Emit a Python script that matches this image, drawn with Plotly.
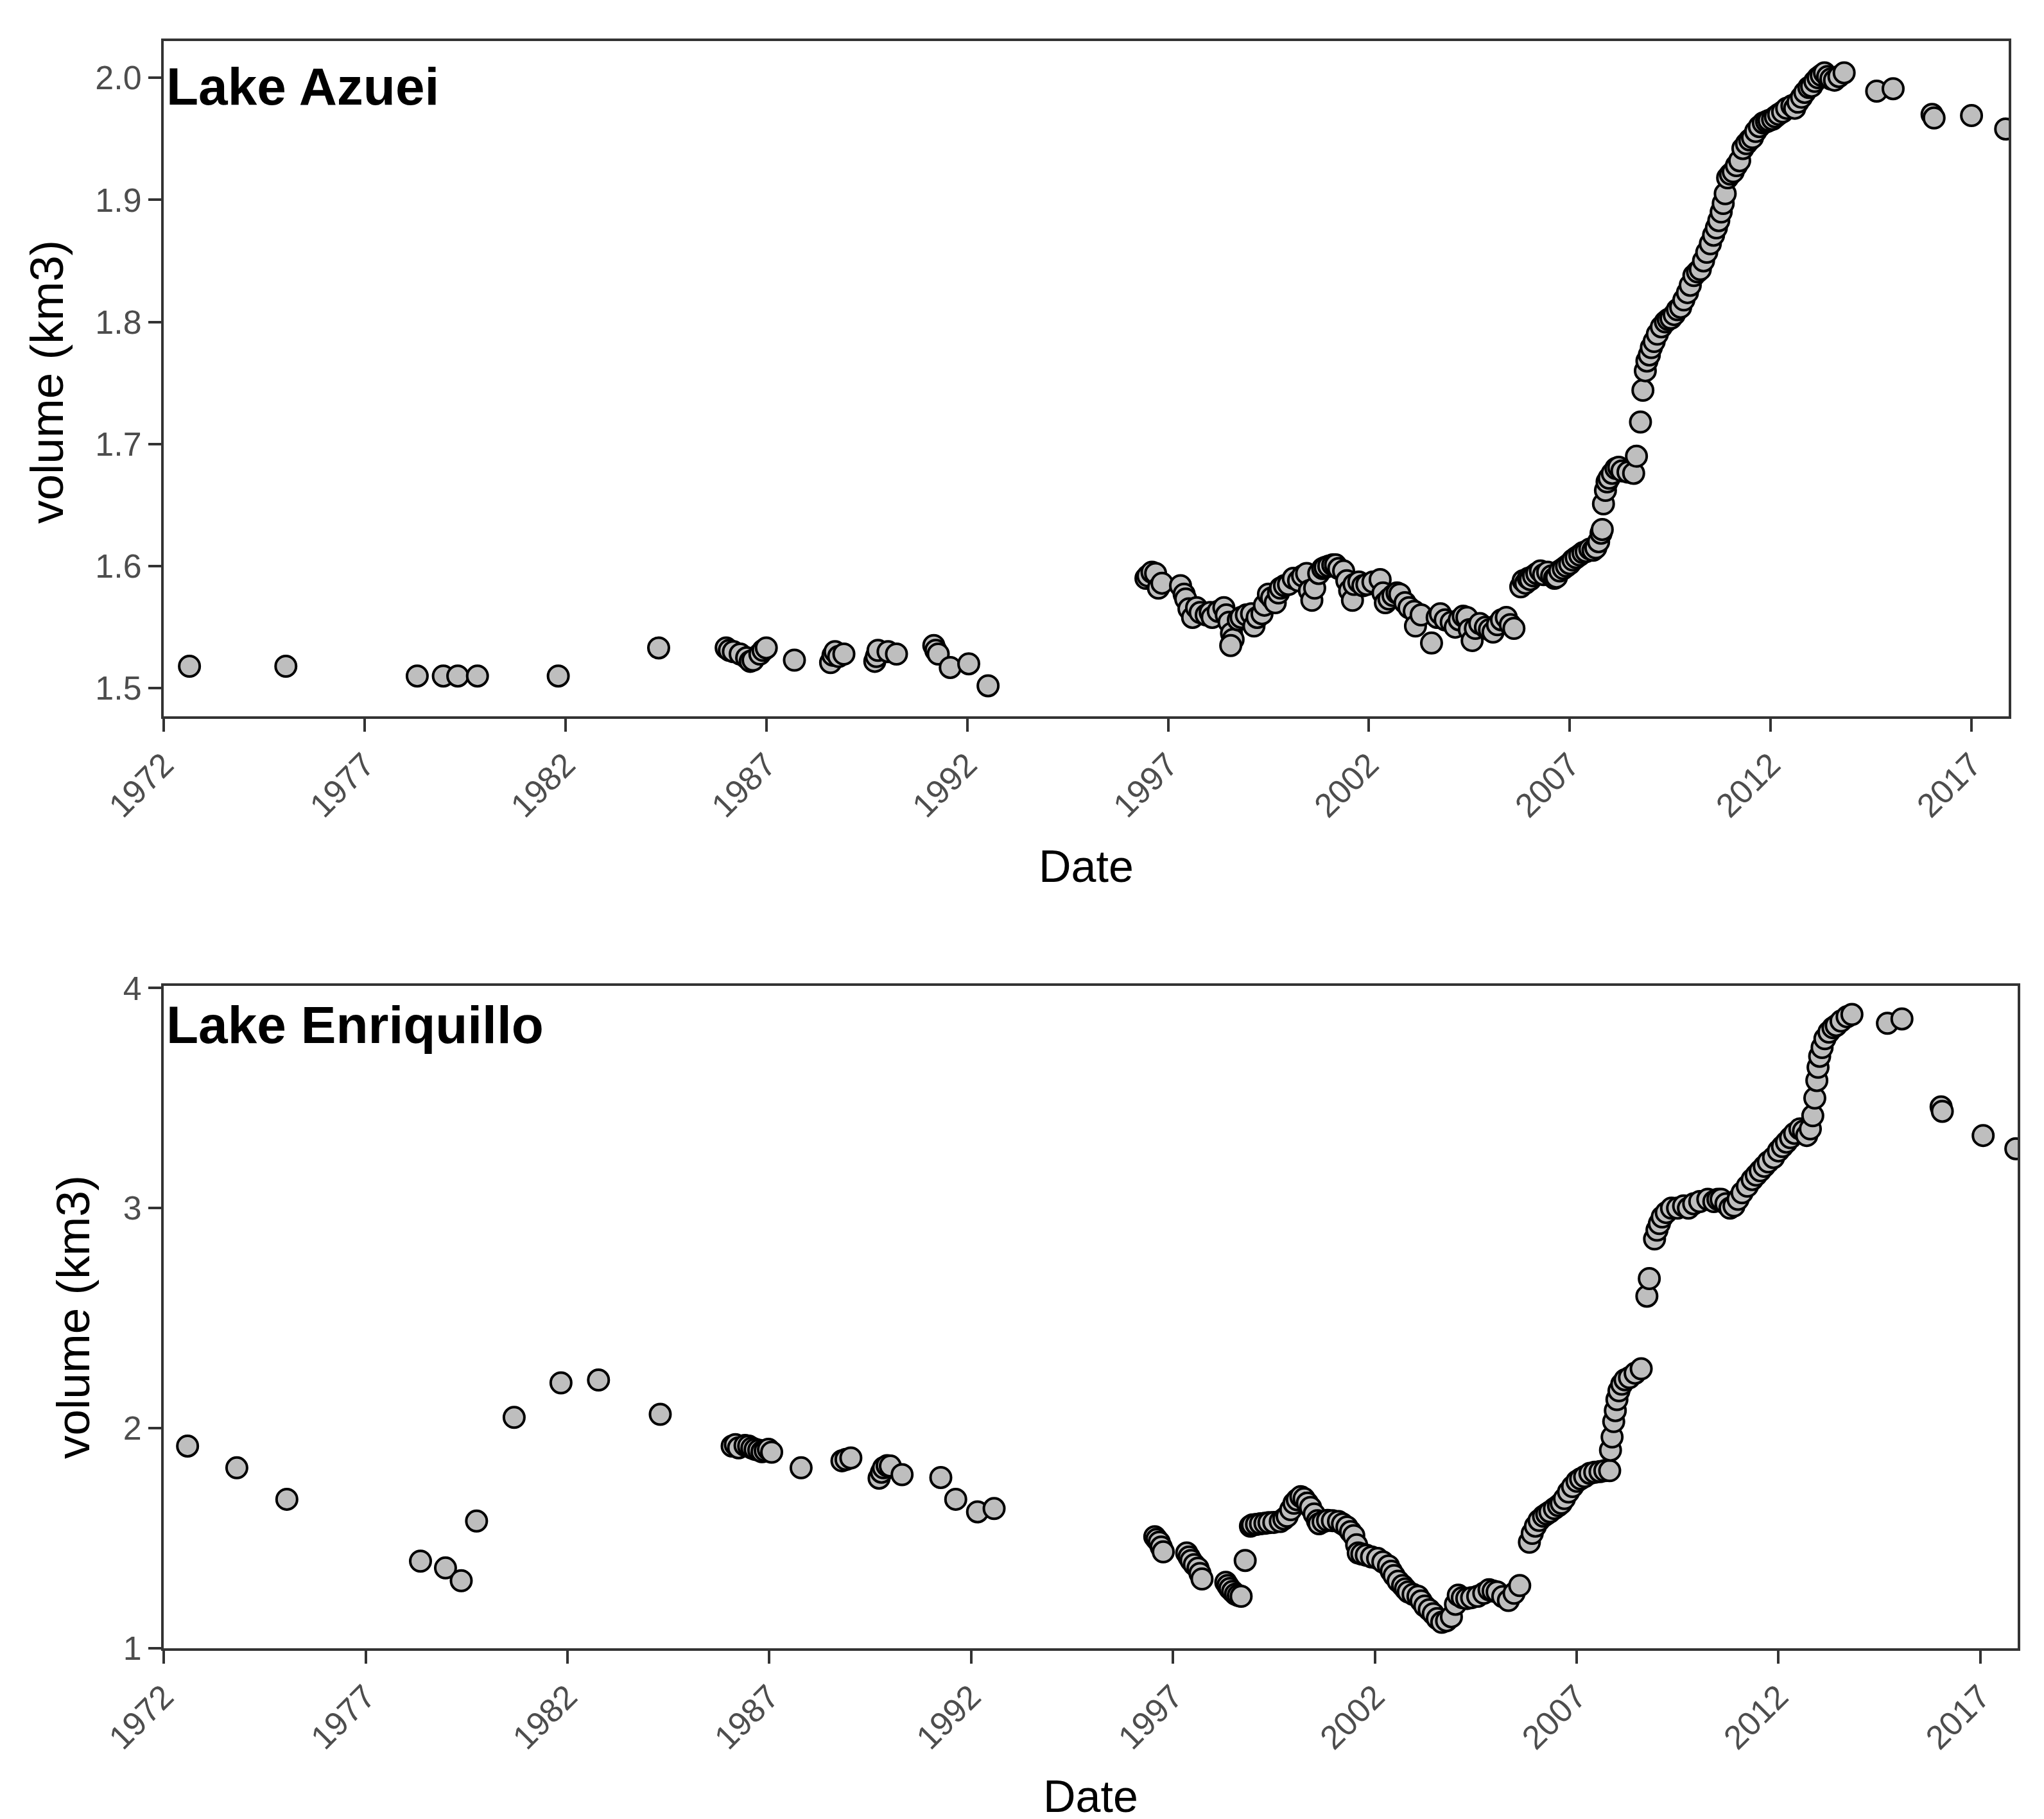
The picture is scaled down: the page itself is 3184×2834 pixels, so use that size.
import pandas as pd
import plotly.graph_objects as go

# ---------------- data (decimal year, volume km3) ----------------
azuei_year = [
    1972.64, 1975.04, 1978.31, 1978.96, 1979.32, 1979.81, 1981.82, 1984.32,
    1986.00, 1986.08, 1986.18, 1986.35, 1986.51, 1986.60, 1986.67, 1986.84, 1986.92, 1987.00,
    1987.70, 1988.60, 1988.66, 1988.71, 1988.80, 1988.93, 1989.70, 1989.74, 1989.78, 1990.03,
    1990.24, 1991.17, 1991.22, 1991.28, 1991.58, 1992.04, 1992.52,
    1996.45, 1996.50, 1996.60, 1996.69, 1996.76, 1996.85, 1997.31, 1997.40, 1997.44, 1997.52,
    1997.61, 1997.71, 1997.80, 1997.95, 1998.05, 1998.10, 1998.25, 1998.39, 1998.45, 1998.52,
    1998.58, 1998.62, 1998.56, 1998.75, 1998.82, 1998.95, 1999.08, 1999.14, 1999.22, 1999.34,
    1999.40, 1999.50, 1999.58, 1999.67, 1999.75, 1999.80, 1999.90, 2000.00, 2000.12, 2000.25,
    2000.35, 2000.45, 2000.52, 2000.58, 2000.65, 2000.75, 2000.85, 2000.91, 2001.00, 2001.10,
    2001.17, 2001.25, 2001.37, 2001.45, 2001.52, 2001.59, 2001.63, 2001.75, 2001.85, 2001.95,
    2002.10, 2002.28, 2002.35, 2002.41, 2002.50, 2002.60, 2002.70, 2002.77, 2002.90, 2003.00,
    2003.13, 2003.16, 2003.30, 2003.56, 2003.70, 2003.78, 2003.90, 2004.05, 2004.15, 2004.25,
    2004.35, 2004.44, 2004.50, 2004.57, 2004.65, 2004.76, 2004.90, 2005.00, 2005.09, 2005.20,
    2005.30, 2005.42, 2005.52, 2005.61,
    2005.78, 2005.84, 2005.90, 2005.97, 2006.02, 2006.10, 2006.18, 2006.27, 2006.35, 2006.45,
    2006.55, 2006.62, 2006.67, 2006.75, 2006.84, 2006.92, 2007.00, 2007.08, 2007.16, 2007.25,
    2007.33, 2007.41, 2007.50, 2007.58, 2007.65, 2007.72, 2007.78, 2007.81,
    2007.84, 2007.89, 2007.93, 2007.98, 2008.06, 2008.15, 2008.22, 2008.30, 2008.45, 2008.59,
    2008.66, 2008.76, 2008.82, 2008.88, 2008.92, 2008.98, 2009.03, 2009.10, 2009.18, 2009.28,
    2009.38, 2009.45, 2009.52, 2009.60, 2009.68, 2009.76, 2009.84, 2009.93, 2010.00, 2010.09,
    2010.18, 2010.25, 2010.33, 2010.41, 2010.50, 2010.58, 2010.65, 2010.71, 2010.77, 2010.82,
    2010.87, 2010.93, 2011.00, 2011.07, 2011.15, 2011.23, 2011.31, 2011.40, 2011.48, 2011.55,
    2011.63, 2011.72, 2011.82, 2011.90, 2011.96, 2012.05, 2012.12, 2012.20, 2012.30, 2012.40,
    2012.53, 2012.60, 2012.68, 2012.77, 2012.85, 2012.95, 2013.02, 2013.10, 2013.18, 2013.26,
    2013.34, 2013.42, 2013.50, 2013.59, 2013.70, 2013.83,
    2014.64, 2015.05, 2016.02, 2016.07, 2017.00, 2017.85,
]
azuei_vol = [
    1.518, 1.518, 1.510, 1.510, 1.510, 1.510, 1.510, 1.533,
    1.533, 1.531, 1.530, 1.528, 1.525, 1.522, 1.523, 1.528, 1.531, 1.533,
    1.523, 1.521, 1.527, 1.530, 1.526, 1.528, 1.522, 1.526, 1.531, 1.530,
    1.528, 1.535, 1.531, 1.528, 1.517, 1.520, 1.502,
    1.590, 1.592, 1.595, 1.594, 1.582, 1.586, 1.584, 1.577, 1.573, 1.565,
    1.558, 1.566, 1.562, 1.560, 1.562, 1.558, 1.563, 1.566, 1.560, 1.554,
    1.545, 1.540, 1.535, 1.556, 1.558, 1.560, 1.561, 1.551, 1.558, 1.561,
    1.568, 1.577, 1.574, 1.570, 1.578, 1.582, 1.584, 1.585, 1.590, 1.588,
    1.592, 1.594, 1.580, 1.572, 1.582, 1.594, 1.598, 1.599, 1.600, 1.601,
    1.601, 1.598, 1.596, 1.588, 1.580, 1.572, 1.585, 1.587, 1.584, 1.585,
    1.587, 1.589, 1.578, 1.570, 1.573, 1.576, 1.578, 1.577, 1.570, 1.566,
    1.563, 1.551, 1.560, 1.537, 1.558, 1.561, 1.556, 1.554, 1.550, 1.556,
    1.559, 1.558, 1.548, 1.539, 1.549, 1.553, 1.550, 1.548, 1.546, 1.552,
    1.556, 1.558, 1.552, 1.549,
    1.583, 1.588, 1.586, 1.590, 1.589, 1.592, 1.594, 1.596, 1.593, 1.595,
    1.592, 1.590, 1.591, 1.596, 1.598, 1.600, 1.602, 1.605, 1.607, 1.609,
    1.611, 1.612, 1.614, 1.613, 1.615, 1.620, 1.627, 1.630,
    1.651, 1.662, 1.669, 1.672, 1.676, 1.680, 1.681, 1.678, 1.677, 1.676,
    1.690, 1.718, 1.744, 1.760, 1.768, 1.773, 1.779, 1.784, 1.790, 1.796,
    1.800, 1.802, 1.803, 1.806, 1.810, 1.812, 1.818, 1.824, 1.830, 1.838,
    1.841, 1.843, 1.850, 1.857, 1.864, 1.871, 1.877, 1.883, 1.890, 1.897,
    1.905, 1.918, 1.921, 1.923, 1.928, 1.932, 1.942, 1.946, 1.949, 1.951,
    1.956, 1.960, 1.963, 1.964, 1.965, 1.966, 1.968, 1.970, 1.972, 1.975,
    1.977, 1.975, 1.980, 1.984, 1.988, 1.992, 1.993, 1.997, 2.000, 2.002,
    2.004, 2.001, 1.999, 1.998, 2.001, 2.004,
    1.989, 1.991, 1.970, 1.967, 1.969, 1.958,
]

enriq_year = [
    1972.59, 1973.81, 1975.05, 1978.36, 1978.98, 1979.37, 1979.75, 1980.68, 1981.84, 1982.77,
    1984.30, 1986.08, 1986.16, 1986.24, 1986.40, 1986.49, 1986.57, 1986.65, 1986.74, 1986.82,
    1986.90, 1986.98, 1987.06, 1987.79, 1988.80, 1988.90, 1989.02, 1989.72, 1989.78, 1989.83,
    1989.92, 1990.00, 1990.29, 1991.25, 1991.62, 1992.16, 1992.57,
    1996.55, 1996.60, 1996.66, 1996.71, 1996.76, 1997.34, 1997.40, 1997.45, 1997.53, 1997.62,
    1997.67, 1997.72, 1998.31, 1998.36, 1998.41, 1998.48, 1998.55, 1998.62, 1998.69, 1998.79,
    1998.92, 1998.97, 1999.07, 1999.17, 1999.28, 1999.38, 1999.50, 1999.66, 1999.75, 1999.83,
    1999.92, 2000.00, 2000.08, 2000.17, 2000.25, 2000.33, 2000.41, 2000.50, 2000.58, 2000.62,
    2000.72, 2000.83, 2000.95, 2001.10, 2001.20, 2001.31, 2001.40, 2001.48, 2001.55, 2001.59,
    2001.68, 2001.79, 2001.92, 2002.07, 2002.20, 2002.34, 2002.41, 2002.48, 2002.58, 2002.69,
    2002.76, 2002.83, 2002.95, 2003.07, 2003.15, 2003.24, 2003.35, 2003.45, 2003.55, 2003.66,
    2003.78, 2003.90, 2004.00, 2004.07, 2004.17, 2004.28, 2004.40, 2004.55, 2004.70, 2004.83,
    2004.93, 2005.03, 2005.17, 2005.31, 2005.45, 2005.59,
    2005.83, 2005.90, 2005.98, 2006.07, 2006.18, 2006.26, 2006.34, 2006.45, 2006.55, 2006.62,
    2006.70, 2006.80, 2006.90, 2007.01, 2007.10, 2007.20, 2007.33, 2007.45, 2007.58, 2007.70,
    2007.82,
    2007.84, 2007.88, 2007.92, 2007.96, 2008.00, 2008.05, 2008.12, 2008.20, 2008.31, 2008.45,
    2008.60, 2008.74, 2008.80, 2008.93, 2008.99, 2009.05, 2009.12, 2009.22, 2009.35, 2009.50,
    2009.65, 2009.77, 2009.90, 2010.05, 2010.25, 2010.40, 2010.50, 2010.58, 2010.70, 2010.80,
    2010.90, 2011.00, 2011.10, 2011.23, 2011.35, 2011.45, 2011.55, 2011.65, 2011.75, 2011.88,
    2012.00, 2012.10, 2012.20, 2012.30, 2012.40, 2012.53, 2012.62, 2012.70, 2012.79, 2012.85,
    2012.90, 2012.95, 2012.98, 2013.02, 2013.08, 2013.15, 2013.25, 2013.35, 2013.43, 2013.55,
    2013.70, 2013.82,
    2014.70, 2015.06, 2016.03, 2016.06, 2017.07, 2017.88,
]
enriq_vol = [
    1.919, 1.820, 1.677, 1.396, 1.365, 1.307, 1.578, 2.049, 2.206, 2.219,
    2.063, 1.919, 1.925, 1.911, 1.922, 1.919, 1.910, 1.904, 1.900, 1.893,
    1.898, 1.904, 1.891, 1.820, 1.852, 1.858, 1.865, 1.773, 1.800, 1.820,
    1.830, 1.828, 1.789, 1.776, 1.677, 1.620, 1.635,
    1.507, 1.495, 1.482, 1.460, 1.438, 1.433, 1.415, 1.399, 1.380, 1.364,
    1.340, 1.315, 1.300, 1.285, 1.271, 1.258, 1.246, 1.240, 1.236, 1.399,
    1.555, 1.561, 1.563, 1.566, 1.568, 1.571, 1.572, 1.576, 1.588, 1.600,
    1.630, 1.659, 1.675, 1.689, 1.680, 1.660, 1.640, 1.610, 1.580, 1.566,
    1.575, 1.581, 1.580, 1.576, 1.565, 1.551, 1.530, 1.512, 1.470, 1.433,
    1.428, 1.423, 1.415, 1.408, 1.392, 1.374, 1.350, 1.330, 1.305, 1.285,
    1.270, 1.256, 1.245, 1.236, 1.215, 1.192, 1.175, 1.157, 1.135, 1.118,
    1.125, 1.143, 1.200, 1.241, 1.230, 1.226, 1.230, 1.236, 1.250, 1.266,
    1.260, 1.256, 1.235, 1.217, 1.250, 1.285,
    1.482, 1.522, 1.555, 1.581, 1.600, 1.610, 1.620, 1.635, 1.648, 1.659,
    1.680, 1.710, 1.735, 1.759, 1.770, 1.780, 1.795, 1.800, 1.803, 1.807,
    1.807,
    1.90, 1.96, 2.03, 2.08, 2.13, 2.17, 2.20, 2.22, 2.23, 2.25,
    2.27, 2.60, 2.68, 2.86, 2.90, 2.93, 2.96, 2.98, 3.00, 3.00,
    3.01, 3.00, 3.02, 3.03, 3.04, 3.03, 3.04, 3.04, 3.02, 3.00,
    3.01, 3.04, 3.07, 3.10, 3.13, 3.15, 3.17, 3.19, 3.21, 3.23,
    3.26, 3.28, 3.30, 3.32, 3.34, 3.36, 3.35, 3.33, 3.36, 3.42,
    3.50, 3.58, 3.64, 3.69, 3.73, 3.77, 3.80, 3.82, 3.83, 3.85,
    3.87, 3.88,
    3.84, 3.86, 3.46, 3.44, 3.33, 3.27,
]

panel_titles = ["Lake Azuei", "Lake Enriquillo"]
year_ticks = [1972, 1977, 1982, 1987, 1992, 1997, 2002, 2007, 2012, 2017]
azuei_yticks = [1.5, 1.6, 1.7, 1.8, 1.9, 2.0]
enriq_yticks = [1, 2, 3, 4]


def to_date(y):
    yi = int(y)
    start = pd.Timestamp(year=yi, month=1, day=1)
    end = pd.Timestamp(year=yi + 1, month=1, day=1)
    return start + (end - start) * (y - yi)


az_dates = [to_date(v) for v in azuei_year]
en_dates = [to_date(v) for v in enriq_year]
tick_dates = [pd.Timestamp(year=y, month=1, day=1) for y in year_ticks]

W, H = 3184, 2834
FONT = "Liberation Sans"

marker = dict(size=32, color="#bebebe", line=dict(color="black", width=4))

fig = go.Figure()
fig.add_trace(go.Scatter(x=az_dates, y=azuei_vol, mode="markers", marker=marker,
                         xaxis="x", yaxis="y", showlegend=False))
fig.add_trace(go.Scatter(x=en_dates, y=enriq_vol, mode="markers", marker=marker,
                         xaxis="x2", yaxis="y2", showlegend=False))

top_x = [247 / W, 3121 / W]
bot_x = [247 / W, 3135 / W]
top_y = [1 - 1108 / H, 1 - 56 / H]
bot_y = [1 - 2560 / H, 1 - 1528 / H]

axis_common = dict(showline=True, mirror=True, linecolor="#333333", linewidth=4,
                   ticks="outside", ticklen=20, tickwidth=4, tickcolor="#333333",
                   showgrid=False, zeroline=False, automargin=False,
                   tickfont=dict(family=FONT, size=52, color="#4d4d4d"))

xrange = [pd.Timestamp("1972-01-01"), pd.Timestamp("2017-12-05")]

fig.update_layout(
    width=W, height=H,
    margin=dict(l=0, r=0, t=0, b=0, autoexpand=False),
    paper_bgcolor="white", plot_bgcolor="white",
    xaxis=dict(domain=top_x, anchor="y", range=xrange, tickvals=tick_dates,
               ticktext=[str(y) for y in year_ticks], tickangle=-45, **axis_common),
    yaxis=dict(domain=top_y, anchor="x", range=[1.477, 2.030], tickvals=azuei_yticks,
               ticktext=[f"{v:.1f}" for v in azuei_yticks], **axis_common),
    xaxis2=dict(domain=bot_x, anchor="y2", range=xrange, tickvals=tick_dates,
                ticktext=[str(y) for y in year_ticks], tickangle=-45, **axis_common),
    yaxis2=dict(domain=bot_y, anchor="x2", range=[1.0, 4.01], tickvals=enriq_yticks,
                ticktext=[str(v) for v in enriq_yticks], **axis_common),
)

ann = []
# panel titles
ann.append(dict(text="<b>" + panel_titles[0] + "</b>", x=top_x[0] + 0.0005, y=1 - 126 / H,
                xref="paper", yref="paper", xanchor="left", yanchor="middle",
                showarrow=False, font=dict(family=FONT, size=82, color="black")))
ann.append(dict(text="<b>" + panel_titles[1] + "</b>", x=bot_x[0] + 0.0005, y=1 - 1588 / H,
                xref="paper", yref="paper", xanchor="left", yanchor="middle",
                showarrow=False, font=dict(family=FONT, size=82, color="black")))
# axis titles
ann.append(dict(text="volume (km3)", x=64 / W, y=1 - 587 / H,
                xref="paper", yref="paper", xanchor="center", yanchor="middle",
                textangle=-90, showarrow=False,
                font=dict(family=FONT, size=73, color="black")))
ann.append(dict(text="volume (km3)", x=105 / W, y=(bot_y[0] + bot_y[1]) / 2,
                xref="paper", yref="paper", xanchor="center", yanchor="middle",
                textangle=-90, showarrow=False,
                font=dict(family=FONT, size=73, color="black")))
ann.append(dict(text="Date", x=(top_x[0] + top_x[1]) / 2, y=1 - 1342 / H,
                xref="paper", yref="paper", xanchor="center", yanchor="middle",
                showarrow=False, font=dict(family=FONT, size=70, color="black")))
ann.append(dict(text="Date", x=(bot_x[0] + bot_x[1]) / 2, y=1 - 2791 / H,
                xref="paper", yref="paper", xanchor="center", yanchor="middle",
                showarrow=False, font=dict(family=FONT, size=70, color="black")))
fig.update_layout(annotations=ann)

fig.write_html("out.html")
